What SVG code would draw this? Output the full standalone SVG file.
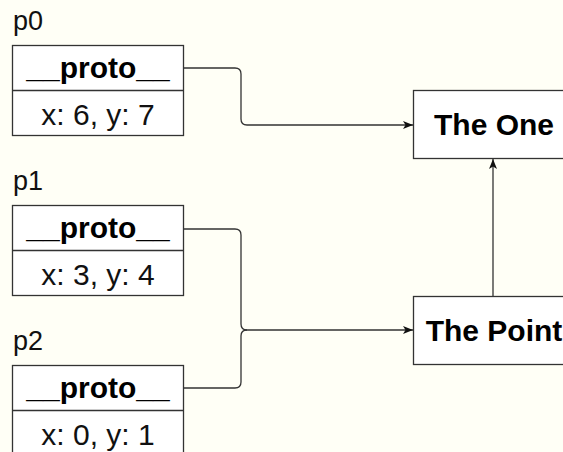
<svg xmlns="http://www.w3.org/2000/svg" width="563" height="452" viewBox="0 0 563 452">
  <style>
    .box { fill: #ffffff; stroke: #333333; stroke-width: 1.3; }
    .sep { stroke: #333333; stroke-width: 1.3; }
    .lbl { font-family: "Liberation Sans", Arial, sans-serif; font-size: 27px; fill: #111111; }
    .head { font-family: "Liberation Sans", Arial, sans-serif; font-size: 30px; font-weight: bold; fill: #000000; text-anchor: middle; }
    .val { font-family: "Liberation Sans", Arial, sans-serif; font-size: 30px; fill: #111111; text-anchor: middle; }
    .title { font-family: "Liberation Sans", Arial, sans-serif; font-size: 30px; font-weight: bold; fill: #000000; text-anchor: middle; }
    .wire { fill: none; stroke: #333333; stroke-width: 1.3; }
  </style>
  <defs>
    <marker id="arrow" viewBox="0 0 10 10" refX="10" refY="5" markerWidth="10" markerHeight="10" markerUnits="userSpaceOnUse" orient="auto">
      <path d="M0,1 L10,5 L0,9 L2.5,5 Z" fill="#111111"/>
    </marker>
  </defs>
  <rect width="563" height="452" fill="#fffff6"/>

  <g id="connectors">
    <path class="wire" d="M184,68 H235 Q241,68 241,74 V119 Q241,125 247,125 H413" marker-end="url(#arrow)"/>
    <path class="wire" d="M184,229 H235 Q241,229 241,235 V324 Q241,330 247,330 H413" marker-end="url(#arrow)"/>
    <path class="wire" d="M184,388 H235 Q241,388 241,382 V336 Q241,330 247,330"/>
    <path class="wire" d="M493,296 V159" marker-end="url(#arrow)"/>
  </g>

  <g id="p0">
    <text class="lbl" x="13" y="30">p0</text>
    <rect class="box" x="12.5" y="45.5" width="171" height="90"/>
    <line class="sep" x1="12.5" y1="90.5" x2="183.5" y2="90.5"/>
    <text class="head" x="98" y="78">__proto__</text>
    <text class="val" x="98" y="125">x: 6, y: 7</text>
  </g>

  <g id="p1">
    <text class="lbl" x="13" y="190">p1</text>
    <rect class="box" x="12.5" y="205.5" width="171" height="90"/>
    <line class="sep" x1="12.5" y1="250.5" x2="183.5" y2="250.5"/>
    <text class="head" x="98" y="238">__proto__</text>
    <text class="val" x="98" y="285">x: 3, y: 4</text>
  </g>

  <g id="p2">
    <text class="lbl" x="13" y="350">p2</text>
    <rect class="box" x="12.5" y="365.5" width="171" height="90"/>
    <line class="sep" x1="12.5" y1="410.5" x2="183.5" y2="410.5"/>
    <text class="head" x="98" y="398">__proto__</text>
    <text class="val" x="98" y="445">x: 0, y: 1</text>
  </g>

  <g id="the-one">
    <rect class="box" x="413.5" y="90.5" width="162" height="68"/>
    <text class="title" x="494" y="135">The One</text>
  </g>

  <g id="the-point">
    <rect class="box" x="413.5" y="296.5" width="162" height="68"/>
    <text class="title" x="494" y="341">The Point</text>
  </g>
</svg>
